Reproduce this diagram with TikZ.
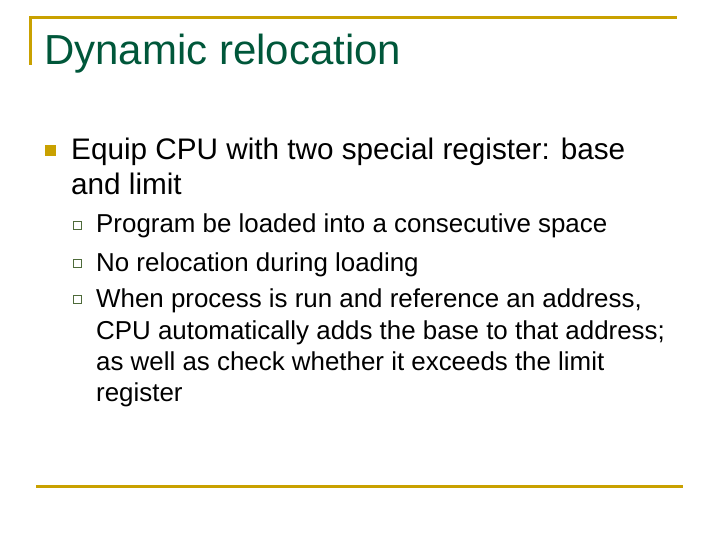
\documentclass[tikz,border=0pt]{standalone}
\usepackage{fontspec}
\setmainfont{Liberation Sans}
\definecolor{gold}{HTML}{C9A100}
\definecolor{titlegreen}{HTML}{00573A}
\definecolor{boxgreen}{HTML}{4E6B3A}
\begin{document}
\begin{tikzpicture}[x=1pt,y=-1pt,
    title/.style={anchor=base west, inner sep=0pt, text=titlegreen, font=\fontsize{42}{42}\selectfont},
    mainitem/.style={anchor=base west, inner sep=0pt, font=\fontsize{29.7}{36}\selectfont},
    subitem/.style={anchor=base west, inner sep=0pt, font=\fontsize{25.9}{31}\selectfont},
    mainbullet/.style={rectangle, fill=gold, minimum size=11pt, inner sep=0pt},
    subbullet/.style={rectangle, draw=boxgreen, fill=white, line width=0.8pt, minimum size=8pt, inner sep=0pt}]

  \useasboundingbox (0,0) rectangle (720,540);
  \draw[gold, line width=3pt] (30,65) -- (30,18) -- (677,18);
  \draw[gold, line width=3pt] (36,486) -- (683,486);

  \node[title] (ttl) at (44,65) {Dynamic relocation};

  \node[mainbullet] (b1) at (50,151) {};
  \node[mainitem] (t1) at (71,160) {Equip CPU with two special register: base};
  \node[mainitem] (t1b) at (71,195) {and limit};

  \node[subbullet] (s1) at (77,225) {};
  \node[subitem] (u1) at (96,233) {Program be loaded into a consecutive space};
  \node[subbullet] (s2) at (77,263) {};
  \node[subitem] (u2) at (96,271) {No relocation during loading};
  \node[subbullet] (s3) at (77,299) {};
  \node[subitem] (u3) at (96,307) {When process is run and reference an address,};
  \node[subitem] (u3b) at (96,339) {CPU automatically adds the base to that address;};
  \node[subitem] (u3c) at (96,370) {as well as check whether it exceeds the limit};
  \node[subitem] (u3d) at (96,401) {register};
\end{tikzpicture}
\end{document}
